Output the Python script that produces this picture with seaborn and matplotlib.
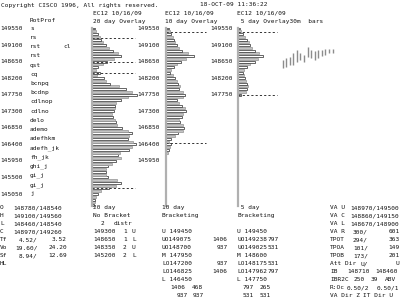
import numpy as np
import pandas as pd
import matplotlib
matplotlib.use("Agg")
import matplotlib.pyplot as plt
import seaborn as sns
from matplotlib.transforms import blended_transform_factory

# ---------------- data ----------------
TOP_PRICE = 149550
TICK = 75

prof20 = [3, 4, 6, 8, 9, 11, 14, 17, 21, 26, 29, 22, 15, 11, 6, 4, 8, 5, 12, 14,
          18, 27, 34, 40, 45, 36, 29, 24, 23, 23, 22, 20, 21, 23, 24, 25, 30, 36, 40, 37,
          36, 41, 44, 40, 37, 28, 26, 29, 24, 20, 16, 14, 14, 14, 16, 25, 29, 24, 17, 9,
          6, 4, 3, 3, 2]
prof10 = [3, 4, 5, 7, 8, 9, 11, 13, 16, 22, 28, 20, 15, 11, 8, 5, 4, 7, 9, 11,
          12, 14, 13, 17, 19, 17, 11, 13, 16, 19, 20, 17, 16, 13, 14, 17, 18, 17, 12, 9,
          5, 3, 5, 4, 3, 2]
prof5 = [2, 3, 5, 7, 9, 11, 12, 14, 17, 21, 25, 20, 17, 12, 9, 6, 5, 6, 7, 8,
         9, 10, 9, 8, 3]

price_labels = [149550, 149100, 148650, 148200, 147750, 147300, 146850,
                146400, 145950, 145500, 145050]
labels_after20 = [149550, 149100, 148650, 148200, 147750, 147300, 146850, 146400, 145950]
labels_after10 = [149550, 149100, 148650, 148200, 147750]

dist_lines_20 = [149300, 148650, 148350, 145200]
bracket_10 = [149450, 146450]
bracket_5 = [149450, 147750]

bars_high = [148700, 148750, 148775, 148875, 148975, 148875, 148825, 149050,
             148975, 148925, 148975, 148975, 149000, 149000, 149000]
bars_low = [148475, 148500, 148550, 148550, 148650, 148700, 148650, 148775,
            148750, 148700, 148750, 148800, 148825, 148875, 148875]

rot_rows = ["s", "rs", "rst", "rst", "qst", "cq", "bcnpq", "bcdnp", "cdlnop",
            "cdlno", "delo", "ademo", "adefhkm", "adefh_jk", "fh_jk", "ghi_j",
            "gi_j", "gi_j", "j"]

# ---------------- figure helpers ----------------
W, H = 400, 300
sns.set_style("white")
plt.rcParams["font.family"] = ["DejaVu Sans Mono", "DejaVu Sans"]
fig = plt.figure(figsize=(4, 3), dpi=100)
FS = 4.4
PX_PER_PRICE = 16.55 / 450.0
Y0 = 28.5


def px2price(y):
    return TOP_PRICE - (y - Y0) / PX_PER_PRICE


def T(x, y, s, ha="left", **kw):
    fig.text(x / W, 1 - y / H, s, fontsize=FS, ha=ha, va="center",
             family=["DejaVu Sans Mono"], color="#111111", **kw)


Y_TOP, Y_BOT = 20, 210
ylim = (px2price(Y_BOT), px2price(Y_TOP))


def make_ax(x0, width):
    ax = fig.add_axes([x0 / W, 1 - Y_BOT / H, width / W, (Y_BOT - Y_TOP) / H])
    ax.set_facecolor("none")
    ax.set_xlim(0, width)
    ax.set_ylim(*ylim)
    for s in ["top", "right", "bottom"]:
        ax.spines[s].set_visible(False)
    ax.spines["left"].set_color("#b0b0b0")
    ax.spines["left"].set_linewidth(1.6)
    ax.spines["left"].set_bounds(px2price(206), px2price(28))
    ax.set_xticks([])
    ax.set_yticks([])
    return ax


def profile(ax, values):
    prices = [TOP_PRICE - TICK * i for i in range(len(values))]
    df = pd.DataFrame({"tpo": values, "price": prices})
    sns.barplot(data=df, x="tpo", y="price", orient="h", native_scale=True,
                width=0.72, errorbar=None, ax=ax, color="white")
    for p in ax.patches:
        yc = p.get_y() + p.get_height() / 2
        idx = int(round((TOP_PRICE - yc) / TICK))
        if idx % 2 == 0:
            p.set_facecolor("white")
            p.set_edgecolor("#3a3a3a")
        else:
            p.set_facecolor("#c4c4c4")
            p.set_edgecolor("#9a9a9a")
        p.set_linewidth(0.55)
    ax.set_xlim(0, ax.get_xlim()[1])
    ax.set_ylim(*ylim)
    ax.set_xlabel("")
    ax.set_ylabel("")
    ax.set_xticks([])
    ax.set_yticks([])


def dashed(ax, price, frac):
    ax.axhline(price, xmin=0, xmax=frac, color="#333333", lw=0.7,
               ls=(0, (2.2, 2.2)))


# ---------------- profiles ----------------
ax20 = make_ax(92, 48)
profile(ax20, prof20)
ax20.set_xlim(0, 48)
for p in dist_lines_20:
    dashed(ax20, p, 0.9)

ax10 = make_ax(165.5, 45)
profile(ax10, prof10)
ax10.set_xlim(0, 45)
for p in bracket_10:
    dashed(ax10, p, 0.9)

ax5 = make_ax(237.5, 42)
profile(ax5, prof5)
ax5.set_xlim(0, 42)
for p in bracket_5:
    dashed(ax5, p, 0.95)

# 30 minute bars
axb = fig.add_axes([279 / W, 1 - Y_BOT / H, 60 / W, (Y_BOT - Y_TOP) / H])
axb.set_facecolor("none")
idx = np.arange(len(bars_high))
axb.vlines(idx, bars_low, bars_high, color="#8c8c8c", lw=1.0)
axb.set_xlim(-1, 15.8)
axb.set_ylim(*ylim)
axb.axis("off")

# price labels
tr = blended_transform_factory(fig.transFigure, ax20.transData)
for xs, labs in ((0.0, price_labels), (137, labels_after20), (210, labels_after10)):
    for p in labs:
        fig.text(xs / W, p, str(p), transform=tr, fontsize=FS, va="center",
                 family=["DejaVu Sans Mono"], color="#111111")

# header
T(1, 5, "Copyright CISCO 1996, All rights reserved.")
T(200, 5, "18-OCT-09 11:36:22")
for x in (93, 165, 237):
    T(x, 12.7, "EC12 10/16/09")
T(30, 21, "RotProf")
T(93, 21, "20 day Overlay")
T(165, 21, "10 day Overlay")
T(237, 21, " 5 day Overlay30m  bars")

# rotation profile letters
for r, s in enumerate(rot_rows):
    T(30, 28.3 + 9.2 * r, s)
T(63, 46.7, "cl")

# bottom block
R0, DR = 207.5, 8.0


def RY(r):
    return R0 + DR * r


left_rows = [("O", "148780/148540"), ("H", "149100/149560"),
             ("L", "148460/148540"), ("C", "148970/149260")]
for r, (a, b) in enumerate(left_rows):
    T(0, RY(r), a)
    T(13, RY(r), b)
for r, (a, b, c) in enumerate([("Tf", "4.52/", "3.52"), ("Vo", "19.60/", "24.20"),
                                ("Sf", "8.94/", "12.69")]):
    T(0, RY(4 + r), a)
    T(37.5, RY(4 + r), b, ha="right")
    T(67, RY(4 + r), c, ha="right")
T(0, RY(7), "HL")

T(93, RY(0), "20 day")
T(93, RY(1), "No Bracket")
T(101, RY(2), "2")
T(114, RY(2), "distr")
for r, (p, n, d) in enumerate([("149300", "1", "U"), ("148650", "1", "L"),
                                ("148350", "2", "U"), ("145200", "2", "L")]):
    T(93, RY(3 + r), p)
    T(123, RY(3 + r), n)
    T(132, RY(3 + r), d)

T(162, RY(0), "10 day")
T(162, RY(1), "Bracketing")
for r, (a, b) in enumerate([("U 149450", ""), ("UO149075", "1406"), ("UO148700", "937"),
                            ("M 147950", ""), ("LO147200", "937"), ("LO146825", "1406"),
                            ("L 146450", "")]):
    T(162, RY(3 + r), a)
    if b:
        T(227.5, RY(3 + r), b, ha="right")
T(185.5, RY(10), "1406", ha="right")
T(203.5, RY(10), "468", ha="right")
T(187.5, RY(11), "937", ha="right")
T(203.5, RY(11), "937", ha="right")

T(237, RY(0), " 5 day")
T(237, RY(1), "Bracketing")
for r, (a, b) in enumerate([("U 149450", ""), ("UO149238", "797"), ("UO149025", "531"),
                            ("M 148600", ""), ("LO148175", "531"), ("LO147962", "797"),
                            ("L 147750", "")]):
    T(237, RY(3 + r), a)
    if b:
        T(279, RY(3 + r), b, ha="right")
T(253.5, RY(10), "797", ha="right")
T(270.5, RY(10), "265", ha="right")
T(253.5, RY(11), "531", ha="right")
T(270.5, RY(11), "531", ha="right")

for r, (a, b) in enumerate([("VA U", "148970/149500"), ("VA C", "148860/149150"),
                            ("VA L", "148670/148900")]):
    T(330, RY(r), a)
    T(399.5, RY(r), b, ha="right")
for r, (a, b, c) in enumerate([("VA R", "300/", "601"), ("TPOT", "294/", "363"),
                                ("TPOA", "101/", "149"), ("TPOB", "173/", "201"),
                                ("Att Dir", "U/", "U")]):
    T(330, RY(3 + r), a)
    T(368, RY(3 + r), b, ha="right")
    T(399.5, RY(3 + r), c, ha="right")
T(330, RY(8), "IB")
T(347, RY(8), "148710")
T(375, RY(8), "148460")
T(330, RY(9), "IBR2C")
T(365, RY(9), "250", ha="right")
T(378, RY(9), "39", ha="right")
T(385, RY(9), "ABV")
T(330, RY(10), "R:Oc")
T(347, RY(10), "0.50/2")
T(377, RY(10), "0.50/1")
T(330, RY(11), "VA Dir Z")
T(363, RY(11), "IT Dir U")

fig.savefig("out.png", dpi=100, facecolor="white")
